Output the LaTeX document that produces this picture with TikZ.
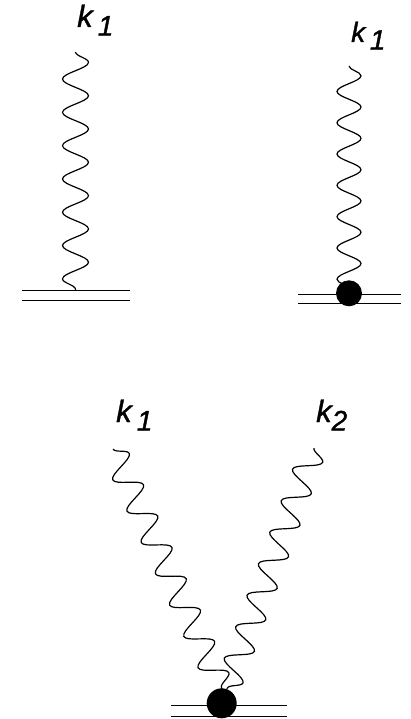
\documentclass[tikz,border=0pt]{standalone}
\usepackage{fontspec}
\setmainfont{Liberation Sans}[ItalicFeatures={FakeBold=1.2}]
\usetikzlibrary{decorations.pathmorphing}
\tikzset{
photon/.style={line width=1.2pt, decorate, decoration={snake, amplitude=#1, segment length=33.5pt}},
line/.style={line width=1pt},
vertex/.style={circle, fill=black, inner sep=0pt, minimum size=#1},
mom/.style={anchor=base west, inner sep=0pt, font=\fontsize{31}{31}\selectfont\itshape}
}
\newcommand{\low}[1]{\raisebox{-0.27em}{\fontsize{28}{28}\selectfont #1}}

\begin{document}
\begin{tikzpicture}[x=1pt, y=-1pt]
\useasboundingbox (0, 0) rectangle (411, 719);

\coordinate (a1) at (75.5, 52);
\coordinate (a2) at (75.5, 290);
\coordinate (al1) at (22, 290);
\coordinate (ar1) at (130, 290);
\coordinate (al2) at (22, 300);
\coordinate (ar2) at (130, 300);
\draw[photon=13pt, decoration={segment length=33.3pt}] (a1) -- (a2);
\draw[line] (al1) -- (ar1);
\draw[line] (al2) -- (ar2);
\node[mom] (ka) at (77, 27) {k\,\low{1}};

\coordinate (b1) at (349, 66);
\coordinate (b2) at (349, 290);
\coordinate (bl1) at (298, 294);
\coordinate (br1) at (401, 294);
\coordinate (bl2) at (298, 303);
\coordinate (br2) at (401, 303);
\draw[photon=12pt, decoration={segment length=31.3pt}] (b1) -- (b2);
\draw[line] (bl1) -- (br1);
\draw[line] (bl2) -- (br2);
\node[vertex=26pt] (pb) at (349, 293.3) {};
\node[mom, font=\fontsize{28}{28}\selectfont\itshape] (kb) at (351, 42) {k\,\low{1}};

\coordinate (c1) at (113, 449);
\coordinate (c2) at (222, 689);
\coordinate (d1) at (314, 448);
\coordinate (d2) at (227, 689);
\coordinate (cl1) at (171, 705);
\coordinate (cr1) at (287, 705);
\coordinate (cl2) at (171, 716);
\coordinate (cr2) at (287, 716);
\draw[photon=13pt, decoration={segment length=34.4pt}] (c1) -- (c2);
\draw[photon=13pt, decoration={segment length=33.5pt}] (d1) -- (d2);
\draw[line] (cl1) -- (cr1);
\draw[line] (cl2) -- (cr2);
\node[vertex=30pt] (pc) at (221.7, 703.3) {};
\node[mom] (kc) at (116, 422) {k\,\low{1}};
\node[mom] (kd) at (316, 422) {k\low{2}};

\end{tikzpicture}
\end{document}
